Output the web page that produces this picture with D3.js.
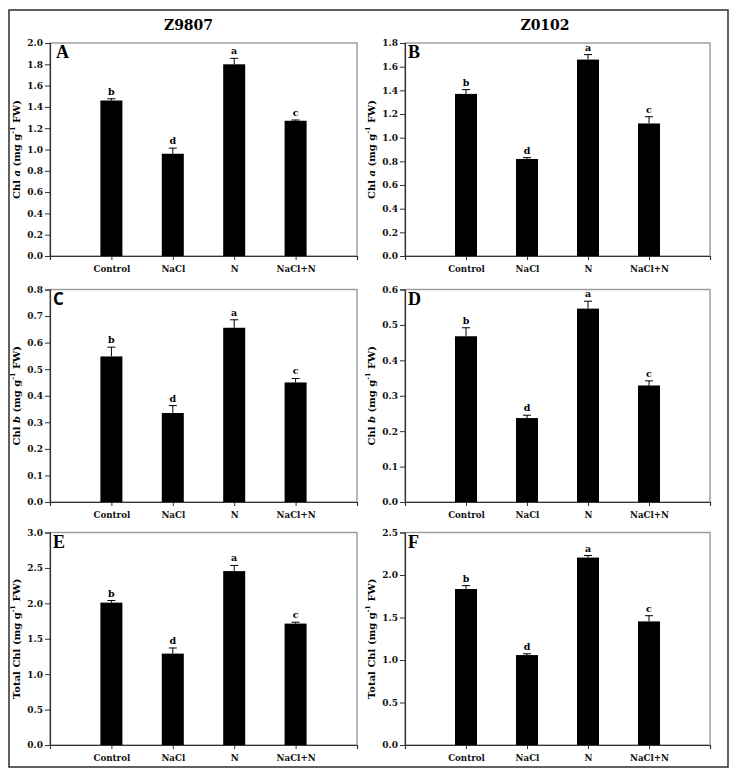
<!DOCTYPE html>
<html><head><meta charset="utf-8">
<script src="https://cdn.jsdelivr.net/npm/d3@7"></script>
<style>
body{margin:0;background:#fff;}
text{font-family:"DejaVu Serif",serif;font-weight:bold;}
</style></head>
<body><svg id="c" width="738" height="778"></svg>
<script>
const categories = ["Control","NaCl","N","NaCl+N"];
const sigLetters = ["b","d","a","c"];
const cultivars = ["Z9807","Z0102"];
const panelLetters = ["A","B","C","D","E","F"];

const chlA_Z9807 = [1.46, 0.96, 1.80, 1.27];
const chlA_Z9807_err = [0.016, 0.053, 0.056, 0.007];
const chlA_Z0102 = [1.37, 0.82, 1.66, 1.12];
const chlA_Z0102_err = [0.036, 0.011, 0.042, 0.057];
const chlB_Z9807 = [0.548, 0.335, 0.656, 0.450];
const chlB_Z9807_err = [0.035, 0.028, 0.030, 0.015];
const chlB_Z0102 = [0.468, 0.237, 0.546, 0.329];
const chlB_Z0102_err = [0.024, 0.008, 0.021, 0.013];
const total_Z9807 = [2.01, 1.29, 2.455, 1.714];
const total_Z9807_err = [0.030, 0.080, 0.080, 0.020];
const total_Z0102 = [1.835, 1.058, 2.205, 1.454];
const total_Z0102_err = [0.040, 0.015, 0.024, 0.067];

const yMax = [2.0, 1.8, 0.8, 0.6, 3.0, 2.5];
const yStep = [0.2, 0.2, 0.1, 0.1, 0.5, 0.5];
const yTitles = [["Chl ","a"," (mg g","-1"," FW)"],["Chl ","b"," (mg g","-1"," FW)"],["Total Chl","",""+" (mg g","-1"," FW)"]];

const panelsData = [
  [chlA_Z9807, chlA_Z9807_err], [chlA_Z0102, chlA_Z0102_err],
  [chlB_Z9807, chlB_Z9807_err], [chlB_Z0102, chlB_Z0102_err],
  [total_Z9807, total_Z9807_err], [total_Z0102, total_Z0102_err]
];

// layout
const colX = [[50,357],[405,710]];
const rowY = [[43,256],[289.5,502],[532.5,745]];

const svg = d3.select("#c");
svg.append("rect").attr("x",9).attr("y",10).attr("width",719).attr("height",757)
  .attr("fill","none").attr("stroke","#3a3a3a").attr("stroke-width",1.6);

cultivars.forEach((c,i)=>{
  svg.append("text").attr("x", i===0?188.5:545).attr("y",29.5)
    .attr("text-anchor","middle").attr("font-size",14).text(c);
});

panelsData.forEach((pd,k)=>{
  const col = k%2, row = Math.floor(k/2);
  const [x0,x1] = colX[col], [y0,y1] = rowY[row];
  const vals = pd[0], errs = pd[1];
  const x = d3.scalePoint().domain(categories).range([x0,x1]).padding(1);
  const y = d3.scaleLinear().domain([0,yMax[k]]).range([y1,y0]);
  const g = svg.append("g");
  // frame
  g.append("rect").attr("x",x0).attr("y",y0).attr("width",x1-x0).attr("height",y1-y0)
    .attr("fill","none").attr("stroke","#999").attr("stroke-width",1.4);
  const n = Math.round(yMax[k]/yStep[k]);
  const ticks = d3.range(n+1).map(i=>+(i*yStep[k]).toFixed(2));
  const ya = g.append("g").attr("transform",`translate(${x0},0)`)
    .call(d3.axisLeft(y).tickValues(ticks).tickFormat(d3.format(".1f")).tickSize(5).tickPadding(2));
  ya.select(".domain").attr("stroke","#333").attr("stroke-width",1.2);
  ya.selectAll(".tick line").attr("stroke","#333");
  ya.selectAll("text").attr("font-family","DejaVu Serif").attr("font-weight","bold").attr("font-size",9).attr("fill","#111");
  const xa = g.append("g").attr("transform",`translate(0,${y1})`)
    .call(d3.axisBottom(x).tickSize(4).tickPadding(6));
  xa.select(".domain").attr("stroke","#333").attr("stroke-width",1.2);
  xa.selectAll(".tick line").attr("stroke","#333");
  xa.selectAll("text").attr("font-family","DejaVu Serif").attr("font-weight","bold").attr("font-size",8.7).attr("fill","#111");

  const bw = 22;
  const bars = g.selectAll(".bar").data(categories).enter();
  bars.append("rect").attr("x",d=>x(d)-bw/2).attr("y",(d,i)=>y(vals[i]))
    .attr("width",bw).attr("height",(d,i)=>y(0)-y(vals[i])).attr("fill","#000");
  bars.append("line").attr("x1",d=>x(d)).attr("x2",d=>x(d))
    .attr("y1",(d,i)=>y(vals[i])).attr("y2",(d,i)=>y(vals[i]+errs[i]))
    .attr("stroke","#000").attr("stroke-width",1);
  bars.append("line").attr("x1",d=>x(d)-4).attr("x2",d=>x(d)+4)
    .attr("y1",(d,i)=>y(vals[i]+errs[i])).attr("y2",(d,i)=>y(vals[i]+errs[i]))
    .attr("stroke","#000").attr("stroke-width",1);
  bars.append("text").attr("x",d=>x(d)).attr("y",(d,i)=>y(vals[i]+errs[i])-4)
    .attr("text-anchor","middle").attr("font-size",9.5).text((d,i)=>sigLetters[i]);

  // panel letter
  g.append("text").attr("x",x0+ (k===0?6:3)).attr("y",y0+15)
    .style("font-family",k===2?"'Open Sans',sans-serif":"'Liberation Serif',serif")
    .attr("font-size",k===2?17:18).attr("font-weight","bold").text(panelLetters[k]);

  // y title
  const t = yTitles[row];
  const ty = g.append("text").attr("transform",`translate(${x0-33},${(y0+y1)/2}) rotate(-90)`)
    .attr("text-anchor","middle").attr("font-size",10).attr("dominant-baseline","middle");
  ty.append("tspan").text(t[0]);
  if(t[1]) ty.append("tspan").attr("font-style","italic").text(t[1]);
  ty.append("tspan").text(t[2]);
  ty.append("tspan").attr("font-size",6.5).attr("dy",-4).text(t[3]);
  ty.append("tspan").attr("dy",4).text(t[4]);
});
</script></body></html>
